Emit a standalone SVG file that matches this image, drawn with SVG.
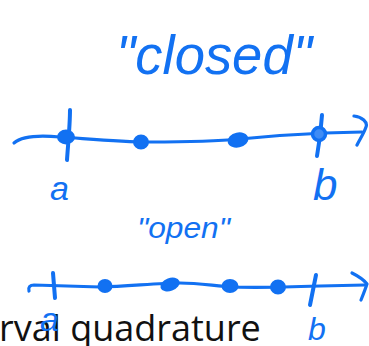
<svg xmlns="http://www.w3.org/2000/svg" width="369" height="346" viewBox="0 0 369 346">
<style>
.ink{fill:none;stroke:#1271f2;stroke-width:3.2;stroke-linecap:round;stroke-linejoin:round}
.tick{fill:none;stroke:#1271f2;stroke-width:4;stroke-linecap:round}
.dot{fill:#1271f2;stroke:#1271f2;stroke-width:2}
.hw{fill:#1271f2;font-family:"Liberation Sans","DejaVu Sans",sans-serif;font-style:italic}
.print{fill:#111;font-family:"Open Sans","Noto Sans",sans-serif}
</style>
<rect width="369" height="346" fill="#fff"/>
<text class="print" x="-1" y="341" font-size="36">rval quadrature</text>
<g id="title-closed">
<text class="hw" x="116" y="74" font-size="56" textLength="196" lengthAdjust="spacingAndGlyphs">"closed"</text>
</g>
<g id="connectors">
<path class="ink" d="M14,143 C22,136 40,135 60,137 C90,139 120,142 150,142 C190,142 220,141 240,139 C270,136 300,134 325,133 L362,132"/>
<path class="ink" d="M354,116 C362,117 368,122 366,127 C364,133 360,139 357,145"/>
<path class="ink" d="M29,291 C28,287 30,285 34,285 L100,287 C130,286 160,283 180,283 C200,283 215,286 235,287 C260,288 290,287 320,286 L365,285"/>
<path class="ink" d="M352,273 C358,276 364,280 367,284 C365,290 363,295 361,300"/>
</g>
<g id="closed-a">
<path class="tick" d="M70,110 C70,125 68,145 67,160"/>
<ellipse class="dot" cx="66" cy="137" rx="8" ry="6.5"/>
<text class="hw" x="50" y="200" font-size="34">a</text>
</g>
<g id="closed-n1"><ellipse class="dot" cx="141" cy="142" rx="7" ry="6.5"/></g>
<g id="closed-n2"><ellipse class="dot" cx="238" cy="140" rx="9.5" ry="6.5" transform="rotate(-12 238 140)"/></g>
<g id="closed-b">
<path class="tick" d="M322,115 C321,130 319,145 317,156"/>
<circle cx="319" cy="134" r="6.5" fill="#3f8cf5" stroke="#1271f2" stroke-width="3.5"/>
<text class="hw" x="313" y="200" font-size="44">b</text>
</g>
<g id="title-open">
<text class="hw" x="137" y="238" font-size="30" textLength="93" lengthAdjust="spacingAndGlyphs">"open"</text>
</g>
<g id="open-a">
<path class="tick" d="M53,273 L55,298"/>
<text class="hw" x="40" y="331" font-size="34">a</text>
</g>
<g id="open-n1"><ellipse class="dot" cx="105" cy="286" rx="6.5" ry="6"/></g>
<g id="open-n2"><ellipse class="dot" cx="170" cy="284.5" rx="9" ry="5.5" transform="rotate(-20 170 284.5)"/></g>
<g id="open-n3"><ellipse class="dot" cx="230" cy="286" rx="7.5" ry="6"/></g>
<g id="open-n4"><ellipse class="dot" cx="278" cy="287" rx="7" ry="6.5"/></g>
<g id="open-b">
<path class="tick" d="M316,275 C314,285 312,295 310,305"/>
<text class="hw" x="308" y="340" font-size="32">b</text>
</g>
</svg>
